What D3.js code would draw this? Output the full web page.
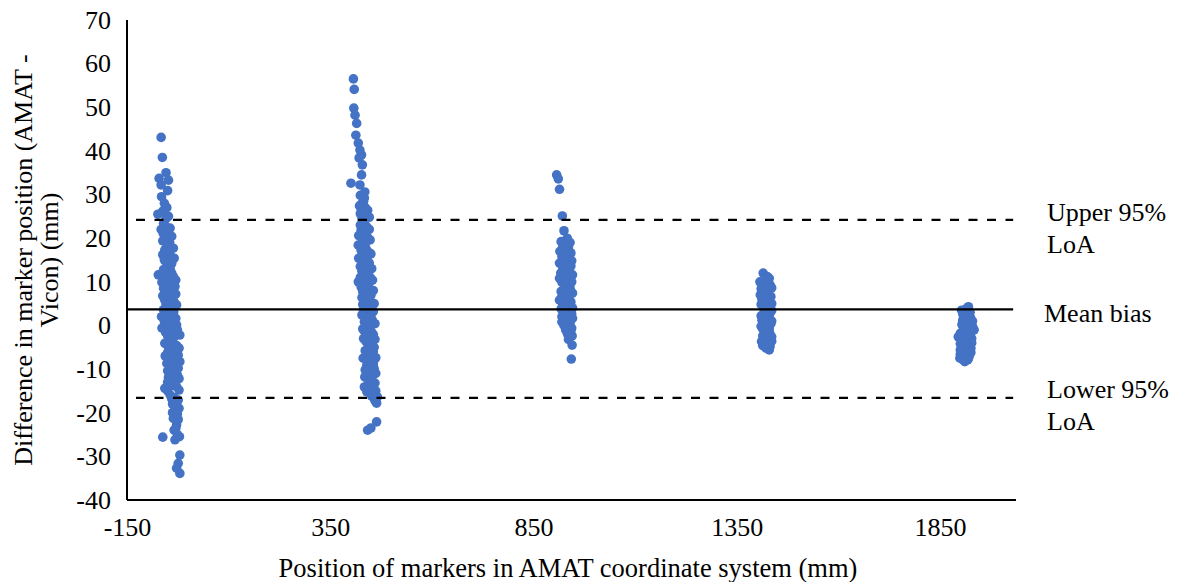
<!DOCTYPE html>
<html>
<head>
<meta charset="utf-8">
<script src="https://cdn.jsdelivr.net/npm/d3@7"></script>
<style>
  body { margin: 0; background: #fff; }
  svg text { font-family: "Liberation Serif", "Times New Roman", serif; fill: #000; }
</style>
</head>
<body>
<div id="chart"></div>
<script>
// marker position (mm) vs difference AMAT - Vicon (mm)
var markerSet1 = [
  [-66,43.1],[-63,38.5],[-54,35.0],[-71,33.7],[-48,33.3],[-66,32.2],[-50,30.9],[-65,29.5],[-58,28.0],
  [-74,25.5],[-54,24.5],[-60,23.4],[-44,22.3],[-61,21.1],[-50,20.6],[-57,20.0],[-45,19.0],[-36,17.7],
  [-57,17.3],[-52,16.5],[-42,15.8],[-58,15.0],[-40,14.2],[-50,13.5],[-48,12.3],[-73,11.6],[-36,11.2],
  [-56,10.8],[-44,10.2],[-52,9.7],[-32,8.9],[-60,8.5],[-47,8.0],[-44,7.4],[-38,6.6],[-57,5.8],[-50,5.3],
  [-28,4.7],[-42,4.2],[-60,3.6],[-35,3.1],[-53,2.6],[-65,2.0],[-36,2.4],[-46,1.5],[-58,0.9],[-28,0.1],
  [-40,-0.3],[-48,-1.0],[-55,-1.6],[-20,-2.2],[-34,-2.6],[-44,-3.1],[-57,-4.1],[-28,-4.6],[-40,-5.0],
  [-32,-5.6],[-50,-6.2],[-24,-6.8],[-38,-7.3],[-46,-7.9],[-20,-8.3],[-52,-8.7],[-30,-9.2],[-44,-10.2],
  [-36,-10.8],[-26,-11.4],[-48,-11.9],[-32,-12.5],[-40,-13.2],[-28,-14.0],[-57,-14.4],[-50,-15.0],
  [-44,-15.9],[-34,-16.5],[-24,-17.1],[-38,-18.0],[-30,-18.6],[-32,-19.4],[-26,-20.3],[-36,-21.3],
  [-28,-22.8],[-34,-24.0],[-62,-25.6],[-21,-25.5],[-32,-26.2],[-20,-29.7],[-24,-31.6],[-28,-32.7],[-20,-33.9],
  [-52,27.0],[-62,26.2],[-48,25.0],[-56,22.8],[-66,22.0],[-48,21.6],[-40,20.4],[-62,19.4],[-52,18.6],
  [-46,17.0],[-62,16.2],[-34,15.4],[-54,14.6],[-44,13.0],[-60,12.8],[-40,12.0],[-54,11.6],[-30,10.4],
  [-64,9.9],[-40,9.3],[-54,7.8],[-30,7.2],[-62,6.8],[-44,6.0],[-34,5.4],[-54,4.8],[-48,3.8],[-40,2.0],
  [-30,1.6],[-52,0.4],[-64,-0.6],[-36,-1.4],[-26,-1.0],[-50,-2.4],[-38,-3.8],[-50,-4.6],[-22,-5.2],
  [-44,-5.8],[-56,-7.0],[-30,-7.6],[-40,-8.8],[-24,-9.8],[-50,-10.4],[-32,-11.0],[-42,-11.6],[-22,-12.2],
  [-50,-13.0],[-34,-13.8],[-22,-14.8],[-40,-16.8],[-28,-17.6],[-22,-19.0],[-38,-20.0],[-24,-21.6],
  [-30,-23.6],[-26,-25.0]
];
var markerSet2 = [
  [407,56.5],[409,54.1],[408,49.8],[411,48.2],[415,46.3],[413,43.6],[419,41.8],[423,40.2],[427,39.1],
  [421,38.4],[429,36.8],[427,34.5],[401,32.6],[423,32.2],[435,30.6],[434,29.2],[428,28.0],[436,27.0],
  [430,26.1],[438,25.2],[428,24.3],[434,23.5],[440,22.6],[426,21.8],[436,21.0],[442,20.1],[430,19.3],
  [419,18.4],[438,17.6],[444,16.8],[428,16.0],[436,15.1],[446,14.3],[424,13.5],[440,12.7],[432,11.9],
  [448,11.0],[419,10.0],[438,9.4],[444,8.5],[430,7.7],[450,6.9],[436,6.0],[442,5.2],[452,4.4],[432,3.6],
  [446,2.8],[438,1.9],[454,1.1],[440,0.3],[448,-0.5],[434,-1.3],[456,-2.1],[444,-2.9],[438,-3.7],
  [450,-4.5],[442,-5.3],[456,-6.1],[446,-6.9],[431,-7.5],[452,-8.3],[440,-9.1],[458,-9.9],[446,-10.7],
  [435,-11.8],[452,-12.4],[460,-13.2],[434,-14.1],[448,-14.8],[456,-15.6],[458,-16.7],[464,-17.8],
  [464,-22.1],[450,-23.5],[442,-24.0],
  [424,29.8],[432,28.4],[422,27.4],[442,26.4],[424,25.6],[446,24.8],[432,24.0],[424,23.0],[446,22.0],
  [432,21.4],[420,20.6],[448,19.6],[436,18.8],[426,17.2],[450,16.4],[420,15.4],[442,14.8],[430,14.0],
  [452,13.0],[428,12.4],[444,11.6],[424,11.0],[454,10.4],[432,10.0],[446,9.8],[426,8.8],[456,8.0],
  [438,7.2],[428,6.4],[446,5.8],[458,5.0],[430,4.8],[440,4.0],[456,3.2],[428,2.4],[450,2.0],[434,0.8],
  [460,0.4],[444,-0.2],[430,-0.8],[452,-1.6],[440,-2.4],[460,-3.2],[432,-3.0],[448,-4.0],[458,-5.0],
  [436,-5.8],[450,-6.4],[462,-7.4],[440,-8.0],[456,-8.8],[446,-9.6],[436,-10.2],[462,-11.0],[450,-11.6],
  [444,-12.8],[456,-13.8],[440,-15.2],[462,-15.0],[452,-16.2],[460,-17.2],[466,-16.4]
];
var markerSet3 = [
  [907,34.5],[911,33.6],[914,31.2],[921,25.1],[925,21.7],[933,20.0],[918,19.2],[928,18.4],[936,17.8],
  [915,17.0],[925,16.3],[934,15.6],[914,14.3],[930,14.0],[922,13.3],[938,12.6],[917,12.0],[928,11.3],
  [936,10.6],[920,9.9],[930,9.2],[940,8.5],[918,7.8],[920,6.6],[934,6.8],[926,6.0],[942,5.4],[922,4.7],
  [935,4.0],[928,3.2],[944,2.6],[920,2.0],[932,1.3],[940,0.6],[925,0.0],[929,-1.0],[938,-1.6],
  [945,-2.4],[936,-3.2],[945,-4.5],[943,-7.7],
  [940,19.0],[922,18.0],[942,16.6],[920,15.8],[944,14.8],[926,14.6],[942,13.6],[932,12.8],[946,11.6],
  [924,11.8],[914,10.8],[944,10.0],[926,9.6],[946,7.4],[936,8.0],[928,7.2],[914,5.8],[938,5.8],[930,4.8],
  [946,4.0],[918,3.8],[938,3.0],[926,2.4],[946,1.6],[934,0.4],[920,0.8],[944,-0.6],[932,-0.4],[942,-1.2],
  [934,-2.0]
];
var markerSet4 = [
  [1415,12.0],[1425,11.2],[1407,10.0],[1432,9.3],[1418,9.6],[1410,8.4],[1428,8.0],[1420,7.2],[1434,6.6],
  [1412,6.0],[1424,5.4],[1430,4.6],[1416,4.0],[1436,3.4],[1422,2.8],[1410,2.2],[1430,1.6],[1418,1.0],
  [1434,0.4],[1424,-0.2],[1414,-0.8],[1430,-1.4],[1420,-2.0],[1436,-2.6],[1411,-3.7],[1426,-3.2],
  [1418,-4.4],[1432,-4.8],[1430,-5.6],[1422,-5.2],
  [1422,10.4],[1430,10.8],[1414,9.0],[1436,8.6],[1424,8.8],[1416,7.6],[1430,7.0],[1408,7.0],[1426,6.2],
  [1418,5.2],[1436,5.0],[1410,4.8],[1426,4.0],[1432,2.8],[1416,2.6],[1426,1.8],[1412,1.2],[1436,1.0],
  [1420,0.0],[1410,-0.2],[1430,-0.6],[1420,-1.2],[1432,-2.0],[1414,-2.4],[1426,-2.6],[1436,-3.6],
  [1420,-3.4],[1426,-4.4],[1414,-4.6]
];
var markerSet5 = [
  [1920,4.3],[1903,3.5],[1912,2.6],[1925,1.8],[1906,1.2],[1918,0.4],[1930,-0.2],[1934,-1.0],[1910,-0.8],
  [1900,-1.8],[1922,-1.6],[1895,-2.6],[1914,-2.8],[1928,-3.0],[1904,-3.8],[1920,-4.2],[1910,-4.9],
  [1926,-5.2],[1900,-5.6],[1916,-6.2],[1906,-6.8],[1922,-7.0],[1899,-7.5],[1911,-8.3],[1918,-7.9],
  [1914,3.8],[1924,3.0],[1906,2.6],[1920,2.2],[1910,1.6],[1930,1.0],[1914,0.6],[1904,0.2],[1926,0.0],
  [1916,-1.0],[1906,-1.4],[1928,-1.4],[1918,-2.2],[1902,-2.6],[1922,-3.2],[1910,-3.4],[1900,-4.2],
  [1928,-4.0],[1914,-4.6],[1904,-5.2],[1920,-5.6],[1910,-5.8],[1926,-6.2],[1900,-6.6],[1914,-7.0],
  [1920,-7.6],[1906,-7.8]
];

var meanBias = 3.7;
var upperLoA = 24.2;
var lowerLoA = -16.6;
var lineExtent = [-150, 2030];

var xTicks = [-150, 350, 850, 1350, 1850];
var yTicks = [-40, -30, -20, -10, 0, 10, 20, 30, 40, 50, 60, 70];

var width = 1197, height = 582;

var svg = d3.select('#chart')
  .append('svg')
  .attr('width', width)
  .attr('height', height);

var x = d3.scaleLinear().domain([-150, 2037]).range([127, 1016]);
var y = d3.scaleLinear().domain([-40, 70]).range([500, 20]);

// plain hyphen for negatives, like the original
var plain = function (d) { return String(d); };

// axes, tick labels only (no tick marks in the original)
var yAxis = svg.append('g')
  .attr('transform', 'translate(127,0)')
  .call(d3.axisLeft(y).tickValues(yTicks).tickSize(0).tickPadding(16).tickFormat(plain));
yAxis.select('.domain').remove();
yAxis.selectAll('text')
  .attr('font-size', '26px')
  .attr('font-family', 'Liberation Serif');

var xAxis = svg.append('g')
  .attr('transform', 'translate(0,500)')
  .call(d3.axisBottom(x).tickValues(xTicks).tickSize(0).tickPadding(18).tickFormat(plain));
xAxis.select('.domain').remove();
xAxis.selectAll('text')
  .attr('font-size', '26px')
  .attr('font-family', 'Liberation Serif');

svg.append('line')
  .attr('x1', x(-150)).attr('x2', x(-150))
  .attr('y1', y(70)).attr('y2', y(-40))
  .attr('stroke', '#000').attr('stroke-width', 2);
svg.append('line')
  .attr('x1', x(-150)).attr('x2', x(2037))
  .attr('y1', y(-40)).attr('y2', y(-40))
  .attr('stroke', '#000').attr('stroke-width', 2);

// points
var allPoints = markerSet1.concat(markerSet2, markerSet3, markerSet4, markerSet5);
svg.append('g')
  .selectAll('circle')
  .data(allPoints)
  .enter()
  .append('circle')
  .attr('cx', function (d) { return x(d[0]); })
  .attr('cy', function (d) { return y(d[1]); })
  .attr('r', 4.8)
  .attr('fill', '#4472C4');

// bias and limits of agreement
svg.append('line')
  .attr('x1', x(lineExtent[0])).attr('x2', x(lineExtent[1]))
  .attr('y1', y(meanBias)).attr('y2', y(meanBias))
  .attr('stroke', '#000').attr('stroke-width', 2.2);

[upperLoA, lowerLoA].forEach(function (v) {
  svg.append('line')
    .attr('x1', x(lineExtent[0]) + 9).attr('x2', x(lineExtent[1]))
    .attr('y1', y(v)).attr('y2', y(v))
    .attr('stroke', '#000').attr('stroke-width', 2.2)
    .attr('stroke-dasharray', '9,9.5');
});

// line labels
var labels = [
  { text: 'Upper 95%', x: 1047, y: 221 },
  { text: 'LoA', x: 1047, y: 253 },
  { text: 'Mean bias', x: 1044, y: 322 },
  { text: 'Lower 95%', x: 1047, y: 398 },
  { text: 'LoA', x: 1047, y: 430 }
];
svg.append('g')
  .selectAll('text')
  .data(labels)
  .enter()
  .append('text')
  .attr('x', function (d) { return d.x; })
  .attr('y', function (d) { return d.y; })
  .attr('font-size', '26px')
  .text(function (d) { return d.text; });

// axis titles
svg.append('text')
  .attr('x', 568)
  .attr('y', 577)
  .attr('text-anchor', 'middle')
  .attr('font-size', '26.5px')
  .text('Position of markers in AMAT coordinate system (mm)');

var yTitle = svg.append('text')
  .attr('transform', 'translate(32,260) rotate(-90)')
  .attr('text-anchor', 'middle')
  .attr('font-size', '26px');
yTitle.append('tspan').attr('x', 0).attr('dy', 0).text('Difference in marker position (AMAT -');
yTitle.append('tspan').attr('x', 0).attr('dy', 26).text('Vicon) (mm)');
</script>
</body>
</html>
